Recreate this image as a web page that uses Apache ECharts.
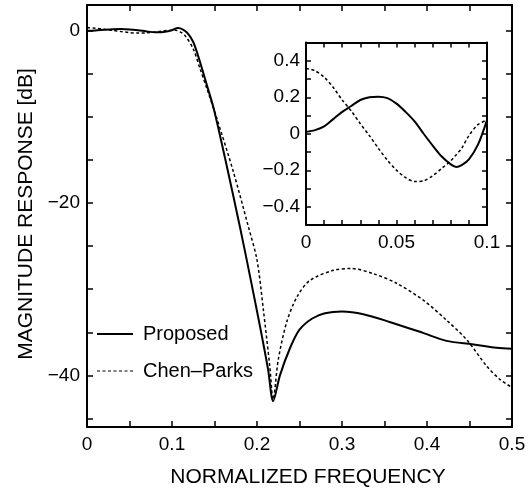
<!DOCTYPE html>
<html><head><meta charset="utf-8">
<script src="https://cdn.jsdelivr.net/npm/echarts@6/dist/echarts.min.js"></script>
<style>html,body{margin:0;padding:0;background:#fff}#c{width:531px;height:493px}</style>
</head><body><div id="c"></div>
<script>
// ---- main plot data (normalized frequency, magnitude dB) ----
const mainFreqProposed = [0,0.01,0.02,0.03,0.04,0.05,0.06,0.07,0.08,0.085,0.09,0.1,0.107,0.113,0.119,0.125,0.131,0.141,0.149,0.164,0.18,0.192,0.2035,0.213,0.219,0.227,0.239,0.25,0.265,0.28,0.3,0.325,0.356,0.396,0.423,0.453,0.482,0.5];
const mainProposed = [0.01,0.04,0.12,0.185,0.2,0.165,0.068,-0.065,-0.17,-0.175,-0.14,0.075,0.33,0.15,-0.35,-1.3,-3.0,-6.3,-9.0,-15.5,-22.8,-28.6,-34.3,-39.3,-43.0,-40.0,-36.8,-34.7,-33.4,-32.8,-32.6,-32.9,-33.8,-35.1,-36.0,-36.4,-36.8,-36.9];
const mainFreqChen = [0,0.01,0.02,0.03,0.04,0.05,0.06,0.07,0.08,0.09,0.1,0.104,0.11,0.115,0.125,0.133,0.141,0.1525,0.172,0.19,0.2,0.2075,0.215,0.219,0.225,0.235,0.247,0.262,0.29,0.311,0.337,0.364,0.396,0.423,0.447,0.47,0.486,0.5];
const mainChen = [0.358,0.31,0.185,0.055,-0.08,-0.2,-0.262,-0.23,-0.15,-0.01,0.075,0.08,-0.15,-0.5,-2.1,-4.4,-6.7,-10.1,-16.3,-22.8,-26.6,-32.4,-38.9,-42.8,-38.2,-33.8,-30.9,-29.0,-27.8,-27.6,-28.2,-29.3,-31.3,-33.6,-35.9,-38.9,-40.5,-41.4];

// ---- inset data (passband detail) ----
const insetFreq = [0,0.005,0.01,0.015,0.02,0.025,0.03,0.035,0.04,0.045,0.05,0.055,0.06,0.065,0.07,0.075,0.08,0.083,0.086,0.09,0.095,0.1];
const insetProposed = [0.01,0.02,0.04,0.08,0.12,0.152,0.185,0.2,0.203,0.195,0.165,0.12,0.068,0.0,-0.065,-0.125,-0.168,-0.182,-0.172,-0.14,-0.06,0.075];
const insetChen = [0.358,0.345,0.31,0.255,0.185,0.125,0.055,-0.01,-0.08,-0.145,-0.2,-0.24,-0.262,-0.258,-0.23,-0.19,-0.148,-0.115,-0.08,-0.01,0.05,0.075];

// ---- tick values / labels ----
const mainXTicks = [0,0.05,0.1,0.15,0.2,0.25,0.3,0.35,0.4,0.45,0.5];
const mainXLabels = [0,0.1,0.2,0.3,0.4,0.5];
const mainYTicks = [-45,-40,-35,-30,-25,-20,-15,-10,-5,0];
const mainYLabels = [-40,-20,0];
const insetXTicks = [0,0.01,0.02,0.03,0.04,0.05,0.06,0.07,0.08,0.09,0.1];
const insetXLabels = [0,0.05,0.1];
const insetYTicks = [-0.5,-0.4,-0.3,-0.2,-0.1,0,0.1,0.2,0.3,0.4,0.5];
const insetYLabels = [-0.4,-0.2,0,0.2,0.4];
const seriesNames = ['Proposed', 'Chen\u2013Parks'];

const FONT = '"Liberation Sans", Arial, Helvetica, sans-serif';
const fmt = v => String(+Number(v).toFixed(3)).replace('-', '\u2212');
const zip = (xs, ys) => xs.map((x, i) => [x, ys[i]]);

// legend icons: solid bar and dashed bar (style only)
let dashPath = 'path://';
for (let i = 0; i < 7; i++) dashPath += 'M' + (i * 5.5) + ',0h3v1h-3z';

function axis(opts) {
  const o = {
    type: 'value', gridIndex: opts.grid, min: opts.min, max: opts.max, position: opts.pos,
    axisLine: { show: true, onZero: false, lineStyle: { color: '#000', width: 2 } },
    axisTick: { show: true, inside: true, length: opts.tickLen, customValues: opts.ticks, lineStyle: { color: '#000', width: 1.5 } },
    axisLabel: opts.labels ? { show: true, customValues: opts.labels, formatter: fmt, fontSize: 19, color: '#000', fontFamily: FONT, margin: opts.margin } : { show: false },
    splitLine: { show: false }, minorTick: { show: false }
  };
  if (opts.name) {
    o.name = opts.name; o.nameLocation = 'middle'; o.nameGap = opts.nameGap;
    o.nameTextStyle = { fontSize: 21, color: '#000', fontFamily: FONT, padding: opts.namePad || 0 };
  }
  return o;
}

const option = {
  animation: false,
  backgroundColor: '#fff',
  grid: [
    { left: 87, top: 5, width: 425, height: 425, show: false },
    { left: 306, top: 42.5, width: 181, height: 182.5, show: true, backgroundColor: '#fff', borderWidth: 0 }
  ],
  xAxis: [
    axis({ grid: 0, min: 0, max: 0.5, pos: 'bottom', tickLen: 6, ticks: mainXTicks, labels: mainXLabels, margin: 8, name: 'NORMALIZED FREQUENCY', nameGap: 40, namePad: [0, 0, 0, 17] }),
    axis({ grid: 0, min: 0, max: 0.5, pos: 'top', tickLen: 6, ticks: mainXTicks }),
    axis({ grid: 1, min: 0, max: 0.1, pos: 'bottom', tickLen: 5, ticks: insetXTicks, labels: insetXLabels, margin: 8 }),
    axis({ grid: 1, min: 0, max: 0.1, pos: 'top', tickLen: 5, ticks: insetXTicks })
  ],
  yAxis: [
    axis({ grid: 0, min: -46, max: 3, pos: 'left', tickLen: 6, ticks: mainYTicks, labels: mainYLabels, margin: 7, name: 'MAGNITUDE RESPONSE [dB]', nameGap: 41, namePad: [0, 0, 0, 4] }),
    axis({ grid: 0, min: -46, max: 3, pos: 'right', tickLen: 6, ticks: mainYTicks }),
    axis({ grid: 1, min: -0.5, max: 0.5, pos: 'left', tickLen: 5, ticks: insetYTicks, labels: insetYLabels, margin: 6 }),
    axis({ grid: 1, min: -0.5, max: 0.5, pos: 'right', tickLen: 5, ticks: insetYTicks })
  ],
  legend: {
    data: [{ name: seriesNames[0], icon: 'rect', itemStyle: { color: '#000' } },
           { name: seriesNames[1], icon: dashPath, itemStyle: { color: '#000' } }],
    orient: 'vertical', left: 97, top: 324, padding: 0,
    itemWidth: 36, itemHeight: 2, itemGap: 17, selectedMode: false,
    itemStyle: { color: '#000', borderWidth: 0 },
    textStyle: { fontSize: 20, color: '#000', fontFamily: FONT, padding: [0, 0, 0, 5] }
  },
  series: [
    { name: seriesNames[0], type: 'line', xAxisIndex: 0, yAxisIndex: 0, data: zip(mainFreqProposed, mainProposed),
      symbol: 'none', smooth: 0.3, lineStyle: { color: '#000', width: 2, type: 'solid' }, itemStyle: { color: '#000' } },
    { name: seriesNames[1], type: 'line', xAxisIndex: 0, yAxisIndex: 0, data: zip(mainFreqChen, mainChen),
      symbol: 'none', smooth: 0.3, lineStyle: { color: '#000', width: 1.5, type: [3, 2.5] }, itemStyle: { color: '#000' } },
    { name: seriesNames[0], type: 'line', xAxisIndex: 2, yAxisIndex: 2, data: zip(insetFreq, insetProposed),
      symbol: 'none', smooth: 0.3, lineStyle: { color: '#000', width: 2, type: 'solid' }, itemStyle: { color: '#000' } },
    { name: seriesNames[1], type: 'line', xAxisIndex: 2, yAxisIndex: 2, data: zip(insetFreq, insetChen),
      symbol: 'none', smooth: 0.3, lineStyle: { color: '#000', width: 1.5, type: [3, 2.5] }, itemStyle: { color: '#000' } }
  ]
};
const chart = echarts.init(document.getElementById('c'), null, { renderer: 'canvas' });
chart.setOption(option);
</script></body></html>
